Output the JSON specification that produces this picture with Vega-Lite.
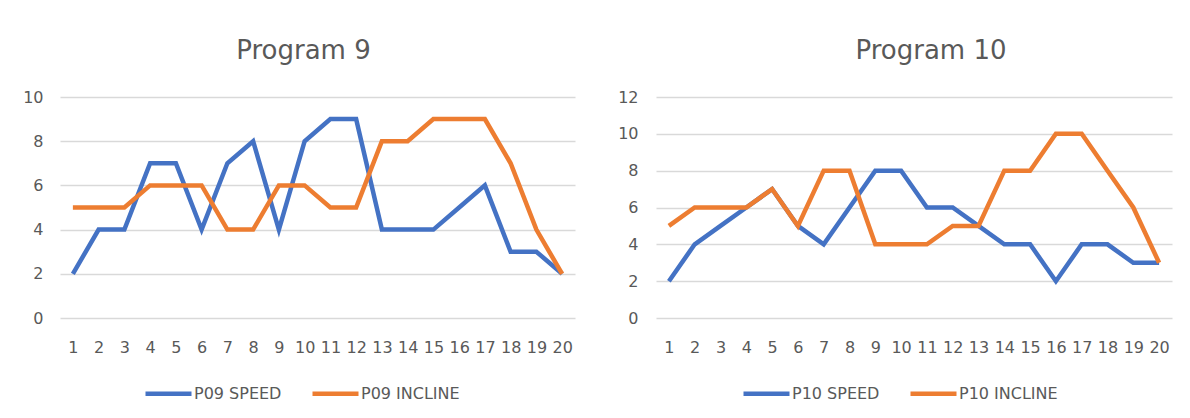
{
  "$schema": "https://vega.github.io/schema/vega-lite/v6.json",
  "autosize": {"type": "pad"},
  "padding": {"left": 22, "top": 38, "right": 17, "bottom": 10},
  "background": "white",
  "spacing": 81,
  "bounds": "flush",
  "config": {
    "font": "DejaVu Sans",
    "view": {"stroke": null},
    "axis": {"labelFont": "DejaVu Sans", "labelColor": "#595959", "labelFontSize": 16, "ticks": false, "domain": false, "title": null},
    "title": {"font": "DejaVu Sans", "fontSize": 26, "fontWeight": "normal", "color": "#595959", "anchor": "middle", "baseline": "alphabetic", "offset": 25},
    "legend": {"labelFont": "DejaVu Sans", "labelFontSize": 16, "labelColor": "#595959", "symbolType": "stroke", "symbolStrokeWidth": 4.5, "symbolSize": 2116, "direction": "horizontal", "orient": "none", "title": null, "columnPadding": 21, "labelOffset": 0}
  },
  "datasets": {
    "p9": [
      {"step": 1, "series": "P09 SPEED", "value": 2}, {"step": 2, "series": "P09 SPEED", "value": 4}, {"step": 3, "series": "P09 SPEED", "value": 4}, {"step": 4, "series": "P09 SPEED", "value": 7}, {"step": 5, "series": "P09 SPEED", "value": 7},
      {"step": 6, "series": "P09 SPEED", "value": 4}, {"step": 7, "series": "P09 SPEED", "value": 7}, {"step": 8, "series": "P09 SPEED", "value": 8}, {"step": 9, "series": "P09 SPEED", "value": 4}, {"step": 10, "series": "P09 SPEED", "value": 8},
      {"step": 11, "series": "P09 SPEED", "value": 9}, {"step": 12, "series": "P09 SPEED", "value": 9}, {"step": 13, "series": "P09 SPEED", "value": 4}, {"step": 14, "series": "P09 SPEED", "value": 4}, {"step": 15, "series": "P09 SPEED", "value": 4},
      {"step": 16, "series": "P09 SPEED", "value": 5}, {"step": 17, "series": "P09 SPEED", "value": 6}, {"step": 18, "series": "P09 SPEED", "value": 3}, {"step": 19, "series": "P09 SPEED", "value": 3}, {"step": 20, "series": "P09 SPEED", "value": 2},
      {"step": 1, "series": "P09 INCLINE", "value": 5}, {"step": 2, "series": "P09 INCLINE", "value": 5}, {"step": 3, "series": "P09 INCLINE", "value": 5}, {"step": 4, "series": "P09 INCLINE", "value": 6}, {"step": 5, "series": "P09 INCLINE", "value": 6},
      {"step": 6, "series": "P09 INCLINE", "value": 6}, {"step": 7, "series": "P09 INCLINE", "value": 4}, {"step": 8, "series": "P09 INCLINE", "value": 4}, {"step": 9, "series": "P09 INCLINE", "value": 6}, {"step": 10, "series": "P09 INCLINE", "value": 6},
      {"step": 11, "series": "P09 INCLINE", "value": 5}, {"step": 12, "series": "P09 INCLINE", "value": 5}, {"step": 13, "series": "P09 INCLINE", "value": 8}, {"step": 14, "series": "P09 INCLINE", "value": 8}, {"step": 15, "series": "P09 INCLINE", "value": 9},
      {"step": 16, "series": "P09 INCLINE", "value": 9}, {"step": 17, "series": "P09 INCLINE", "value": 9}, {"step": 18, "series": "P09 INCLINE", "value": 7}, {"step": 19, "series": "P09 INCLINE", "value": 4}, {"step": 20, "series": "P09 INCLINE", "value": 2}
    ],
    "p10": [
      {"step": 1, "series": "P10 SPEED", "value": 2}, {"step": 2, "series": "P10 SPEED", "value": 4}, {"step": 3, "series": "P10 SPEED", "value": 5}, {"step": 4, "series": "P10 SPEED", "value": 6}, {"step": 5, "series": "P10 SPEED", "value": 7},
      {"step": 6, "series": "P10 SPEED", "value": 5}, {"step": 7, "series": "P10 SPEED", "value": 4}, {"step": 8, "series": "P10 SPEED", "value": 6}, {"step": 9, "series": "P10 SPEED", "value": 8}, {"step": 10, "series": "P10 SPEED", "value": 8},
      {"step": 11, "series": "P10 SPEED", "value": 6}, {"step": 12, "series": "P10 SPEED", "value": 6}, {"step": 13, "series": "P10 SPEED", "value": 5}, {"step": 14, "series": "P10 SPEED", "value": 4}, {"step": 15, "series": "P10 SPEED", "value": 4},
      {"step": 16, "series": "P10 SPEED", "value": 2}, {"step": 17, "series": "P10 SPEED", "value": 4}, {"step": 18, "series": "P10 SPEED", "value": 4}, {"step": 19, "series": "P10 SPEED", "value": 3}, {"step": 20, "series": "P10 SPEED", "value": 3},
      {"step": 1, "series": "P10 INCLINE", "value": 5}, {"step": 2, "series": "P10 INCLINE", "value": 6}, {"step": 3, "series": "P10 INCLINE", "value": 6}, {"step": 4, "series": "P10 INCLINE", "value": 6}, {"step": 5, "series": "P10 INCLINE", "value": 7},
      {"step": 6, "series": "P10 INCLINE", "value": 5}, {"step": 7, "series": "P10 INCLINE", "value": 8}, {"step": 8, "series": "P10 INCLINE", "value": 8}, {"step": 9, "series": "P10 INCLINE", "value": 4}, {"step": 10, "series": "P10 INCLINE", "value": 4},
      {"step": 11, "series": "P10 INCLINE", "value": 4}, {"step": 12, "series": "P10 INCLINE", "value": 5}, {"step": 13, "series": "P10 INCLINE", "value": 5}, {"step": 14, "series": "P10 INCLINE", "value": 8}, {"step": 15, "series": "P10 INCLINE", "value": 8},
      {"step": 16, "series": "P10 INCLINE", "value": 10}, {"step": 17, "series": "P10 INCLINE", "value": 10}, {"step": 18, "series": "P10 INCLINE", "value": 8}, {"step": 19, "series": "P10 INCLINE", "value": 6}, {"step": 20, "series": "P10 INCLINE", "value": 3}
    ]
  },
  "resolve": {"scale": {"color": "independent", "y": "independent", "x": "independent"}, "legend": {"color": "independent"}},
  "hconcat": [
    {
      "width": 515,
      "height": 221,
      "title": {"text": "Program 9", "dx": -14},
      "data": {"name": "p9"},
      "mark": {"type": "line", "strokeWidth": 4.5, "strokeJoin": "miter"},
      "encoding": {
        "x": {"field": "step", "type": "ordinal", "scale": {"type": "point", "padding": 0.5}, "axis": {"labelAngle": 0, "labelPadding": 21, "grid": false}},
        "y": {"field": "value", "type": "quantitative", "scale": {"domain": [0, 10]}, "axis": {"values": [0, 2, 4, 6, 8, 10], "labelPadding": 17, "grid": true, "gridColor": "#d9d9d9", "gridWidth": 1.5}},
        "color": {"field": "series", "type": "nominal", "sort": ["P09 SPEED", "P09 INCLINE"], "scale": {"domain": ["P09 SPEED", "P09 INCLINE"], "range": ["#4472C4", "#ED7D31"]}, "legend": {"legendX": 83, "legendY": 271}}
      }
    },
    {
      "width": 516,
      "height": 221,
      "title": {"text": "Program 10", "dx": 17},
      "data": {"name": "p10"},
      "mark": {"type": "line", "strokeWidth": 4.5, "strokeJoin": "miter"},
      "encoding": {
        "x": {"field": "step", "type": "ordinal", "scale": {"type": "point", "padding": 0.5}, "axis": {"labelAngle": 0, "labelPadding": 21, "grid": false}},
        "y": {"field": "value", "type": "quantitative", "scale": {"domain": [0, 12]}, "axis": {"values": [0, 2, 4, 6, 8, 10, 12], "labelPadding": 18, "grid": true, "gridColor": "#d9d9d9", "gridWidth": 1.5}},
        "color": {"field": "series", "type": "nominal", "sort": ["P10 SPEED", "P10 INCLINE"], "scale": {"domain": ["P10 SPEED", "P10 INCLINE"], "range": ["#4472C4", "#ED7D31"]}, "legend": {"legendX": 85, "legendY": 271}}
      }
    }
  ]
}
